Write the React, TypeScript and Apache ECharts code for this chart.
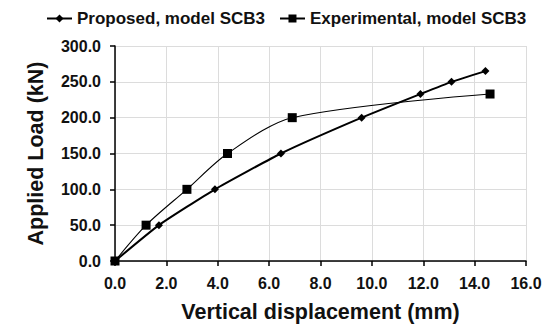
import React, { useEffect, useRef } from "react";
import * as echarts from "echarts";

const proposedX = [0, 1.71, 3.89, 6.46, 9.6, 11.89, 13.1, 14.42];
const proposedY = [0, 50, 100, 150, 200, 233, 250, 265];
const experimentalX = [0, 1.21, 2.8, 4.38, 6.9, 14.6];
const experimentalY = [0, 50, 100, 150, 200, 233];
const seriesNames = ["Proposed, model SCB3", "Experimental, model SCB3"];
const xAxisName = "Vertical displacement (mm)";
const yAxisName = "Applied Load (kN)";

const FONT = "'Liberation Sans', Arial, sans-serif";

export default function App() {
  const ref = useRef<HTMLDivElement>(null);
  useEffect(() => {
    if (!ref.current) return;
    const chart = echarts.init(ref.current, undefined, { renderer: "svg" });
    const axisCommon = {
      axisLine: { show: true, lineStyle: { color: "#000", width: 1.5 } },
      axisTick: { show: true, inside: false, length: 5, lineStyle: { color: "#000", width: 1.5 } },
      splitLine: { show: true, lineStyle: { color: "#dcdcdc", width: 1 } },
      nameLocation: "middle" as const,
      nameTextStyle: { fontFamily: FONT, fontWeight: "bold" as const, fontSize: 21.5, color: "#111" },
    };
    chart.setOption({
      animation: false,
      backgroundColor: "#fff",
      textStyle: { fontFamily: FONT },
      legend: {
        left: 41,
        top: 5,
        itemWidth: 25,
        itemHeight: 10,
        itemGap: 14,
        textStyle: { fontFamily: FONT, fontWeight: "bold", fontSize: 17, color: "#111" },
        data: seriesNames,
      },
      grid: { left: 115, right: 29, top: 46, bottom: 67, containLabel: false },
      xAxis: {
        type: "value",
        min: 0,
        max: 16,
        interval: 2,
        name: xAxisName,
        nameGap: 40,
        ...axisCommon,
        axisLabel: {
          margin: 14,
          fontFamily: FONT,
          fontWeight: "bold",
          fontSize: 16,
          color: "#111",
          formatter: (v: number) => v.toFixed(1),
        },
      },
      yAxis: {
        type: "value",
        min: 0,
        max: 300,
        interval: 50,
        name: yAxisName,
        nameGap: 68,
        ...axisCommon,
        axisLabel: {
          margin: 14,
          fontFamily: FONT,
          fontWeight: "bold",
          fontSize: 16,
          color: "#111",
          formatter: (v: number) => v.toFixed(1),
        },
      },
      series: [
        {
          name: seriesNames[0],
          type: "line",
          data: proposedX.map((x, i) => [x, proposedY[i]]),
          smooth: 0.15,
          symbol: "diamond",
          symbolSize: 8,
          itemStyle: { color: "#000" },
          lineStyle: { color: "#000", width: 2 },
          z: 3,
        },
        {
          name: seriesNames[1],
          type: "line",
          data: experimentalX.map((x, i) => [x, experimentalY[i]]),
          smooth: 0.3,
          symbol: "rect",
          symbolSize: 9,
          itemStyle: { color: "#000" },
          lineStyle: { color: "#000", width: 1.1 },
          z: 2,
        },
      ],
    });
    return () => chart.dispose();
  }, []);
  return <div ref={ref} style={{ width: 555, height: 328, position: "absolute", left: 0, top: 0 }} />;
}
